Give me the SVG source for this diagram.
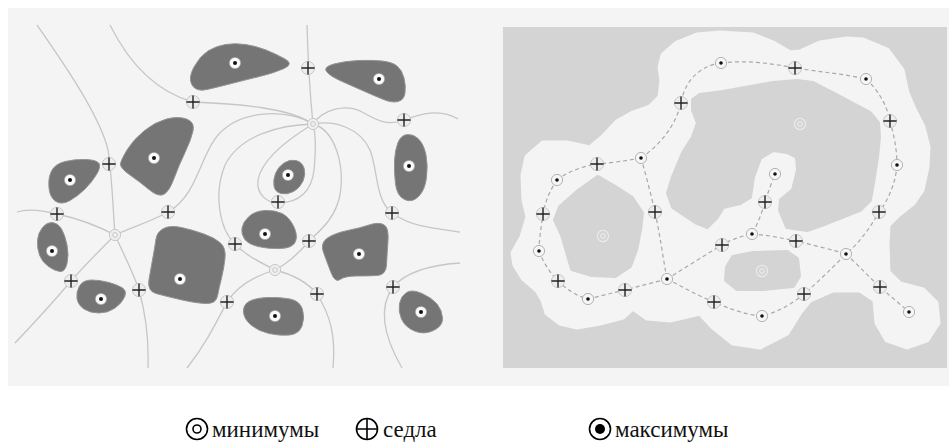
<svg xmlns="http://www.w3.org/2000/svg" width="949" height="448" viewBox="0 0 949 448">
<style>
.curve{fill:none;stroke:#c6c6c6;stroke-width:1.3}
.blob{fill:#757575;stroke:#939393;stroke-width:1}
.dash{fill:none;stroke:#a9a9a9;stroke-width:1.2;stroke-dasharray:4 3}
.hole{fill:#d4d4d4;stroke:#d4d4d4;stroke-width:4;stroke-linejoin:round}
.env{fill:#f4f4f4;stroke:#f4f4f4;stroke-width:5;stroke-linejoin:round}
.leg{font-family:"Liberation Serif","Times New Roman",serif;font-size:23px;fill:#111}
</style>
<defs>
<g id="maxL"><circle r="5.6" fill="#fafafa" stroke="#a8a8a8" stroke-width="0.6"/><circle r="2" fill="#111"/></g>
<g id="sad"><circle r="6.6" fill="#ededed" stroke="#bdbdbd" stroke-width="0.8"/><path d="M-6.6,0H6.6M0,-6.6V6.6" stroke="#222" stroke-width="1.4"/></g>
<g id="minL"><circle r="5.6" fill="#efefef" stroke="#c8c8c8" stroke-width="1"/><circle r="2.4" fill="none" stroke="#c8c8c8" stroke-width="1"/></g>
<g id="maxR"><circle r="5.6" fill="#f6f6f6" stroke="#b3b3b3" stroke-width="1"/><circle r="1.8" fill="#111"/></g>
<g id="minR"><circle r="5.6" fill="none" stroke="#eaeaea" stroke-width="1.2"/><circle r="2.3" fill="none" stroke="#f2f2f2" stroke-width="1"/></g>
</defs>
<rect width="949" height="448" fill="#ffffff"/>
<rect x="8" y="8" width="941" height="378" fill="#f4f4f4"/>

<g id="left-curves">
<path class="curve" d="M 37,25 C 60,58 100,115 108,150 C 112,175 113,210 115,235"/>
<path class="curve" d="M 110,25 C 125,55 150,90 193,102 C 240,104 290,108 313,124"/>
<path class="curve" d="M 307,25 C 308,60 310,95 313,124"/>
<path class="curve" d="M 313,124 C 285,108 240,110 218,135 C 200,155 198,195 168,212 C 150,222 130,228 115,235"/>
<path class="curve" d="M 313,124 C 280,125 240,135 225,165 C 213,195 220,230 235,244 C 245,255 260,262 275,270"/>
<path class="curve" d="M 313,124 C 290,138 262,158 258,180 C 256,195 268,203 278,203"/>
<path class="curve" d="M 278,203 C 300,203 312,190 314,170 C 316,150 316,135 313,124"/>
<path class="curve" d="M 313,124 C 335,130 345,165 340,195 C 335,220 318,232 309,241 C 300,252 290,262 275,270"/>
<path class="curve" d="M 313,124 C 322,110 345,103 362,112 C 378,121 388,126 404,120 C 420,114 440,108 458,119"/>
<path class="curve" d="M 313,124 C 335,120 360,128 370,150 C 378,170 375,200 392,213 C 410,226 430,228 460,232"/>
<path class="curve" d="M 17,212 C 30,208 45,211 57,214 C 80,219 100,227 115,235"/>
<path class="curve" d="M 115,235 C 100,250 85,265 71,281 C 55,300 35,322 15,343"/>
<path class="curve" d="M 115,235 C 124,255 133,272 139,290 C 146,315 149,340 148,368"/>
<path class="curve" d="M 275,270 C 258,275 238,285 227,302 C 215,325 205,345 187,368"/>
<path class="curve" d="M 275,270 C 295,275 308,283 317,294 C 330,315 336,335 333,368"/>
<path class="curve" d="M 460,263 C 430,265 405,273 393,287 C 380,305 380,330 402,368"/>
</g>

<g id="left-blobs">
<path class="blob" d="M 208,51 Q 216,46 225.5,44.5 Q 235,43 245.5,44.5 Q 256,46 266,50 Q 276,54 285,59 Q 294,64 284,68.5 Q 274,73 259.5,76.5 Q 245,80 231.5,83.5 Q 218,87 207,89.5 Q 196,92 192,85 Q 188,78 194,67 Q 200,56 208,51 Z"/>
<path class="blob" d="M 334,64 Q 345,61 358.5,60.5 Q 372,60 382,61 Q 392,62 397,66 Q 402,70 404,78 Q 406,86 405,93 Q 404,100 398,101.5 Q 392,103 383.5,99.5 Q 375,96 362.5,90.5 Q 350,85 340,80.5 Q 330,76 326.5,71.5 Q 323,67 334,64 Z"/>
<path class="blob" d="M 127,150 Q 133,140 144,131 Q 155,122 166.5,119 Q 178,116 186.5,119 Q 195,122 193,131 Q 191,140 185,152.5 Q 179,165 174,178.5 Q 169,192 163.5,194.5 Q 158,197 149,189.5 Q 140,182 130,175 Q 120,168 120.5,164 Q 121,160 127,150 Z"/>
<path class="blob" d="M 51.5,171 Q 55,164 65,161.5 Q 75,159 86,159.5 Q 97,160 99,163.5 Q 101,167 96.5,174.5 Q 92,182 85,189 Q 78,196 70,200.5 Q 62,205 56,201.5 Q 50,198 49,188 Q 48,178 51.5,171 Z"/>
<path class="blob" d="M 398,142.5 Q 401,135 407.5,134.5 Q 414,134 419,139.5 Q 424,145 426,155 Q 428,165 426.5,177.5 Q 425,190 418.5,196.5 Q 412,203 404.5,199.5 Q 397,196 395.5,184 Q 394,172 394.5,161 Q 395,150 398,142.5 Z"/>
<path class="blob" d="M 284,163 Q 290,159 296,160.5 Q 302,162 304,168 Q 306,174 303,181 Q 300,188 293.5,191.5 Q 287,195 281,193.5 Q 275,192 274,186 Q 273,180 275.5,173.5 Q 278,167 284,163 Z"/>
<path class="blob" d="M 42.5,227.5 Q 47,222 52.5,222.5 Q 58,223 61.5,229 Q 65,235 67,245 Q 69,255 67,263.5 Q 65,272 60,271.5 Q 55,271 48.5,266.5 Q 42,262 39.5,255 Q 37,248 37.5,240.5 Q 38,233 42.5,227.5 Z"/>
<path class="blob" d="M 163.5,228.5 Q 170,225 181.5,227.5 Q 193,230 204,234 Q 215,238 220.5,243 Q 226,248 225,258 Q 224,268 221.5,278 Q 219,288 217.5,296 Q 216,304 205.5,303.5 Q 195,303 180,299.5 Q 165,296 156,293.5 Q 147,291 149,279.5 Q 151,268 153,257 Q 155,246 156,239 Q 157,232 163.5,228.5 Z"/>
<path class="blob" d="M 79.5,286 Q 83,280 91.5,280 Q 100,280 109,282.5 Q 118,285 122.5,288 Q 127,291 124.5,297 Q 122,303 115,308 Q 108,313 99,313 Q 90,313 84,309 Q 78,305 77,298.5 Q 76,292 79.5,286 Z"/>
<path class="blob" d="M 249,216.5 Q 255,211 265,210.5 Q 275,210 282,213.5 Q 289,217 293.5,226 Q 298,235 295.5,241.5 Q 293,248 280.5,248.5 Q 268,249 258,246.5 Q 248,244 244.5,239 Q 241,234 242,228 Q 243,222 249,216.5 Z"/>
<path class="blob" d="M 327.5,238 Q 335,233 347.5,230.5 Q 360,228 369,225 Q 378,222 383.5,224.5 Q 389,227 388,241 Q 387,255 386.5,265 Q 386,275 377,275.5 Q 368,276 356.5,276 Q 345,276 340,279.5 Q 335,283 331,272.5 Q 327,262 323.5,252.5 Q 320,243 327.5,238 Z"/>
<path class="blob" d="M 249,301.5 Q 255,298 267.5,297.5 Q 280,297 290,299 Q 300,301 302.5,309.5 Q 305,318 302,326 Q 299,334 289.5,335 Q 280,336 269,333.5 Q 258,331 251,325 Q 244,319 243.5,312 Q 243,305 249,301.5 Z"/>
<path class="blob" d="M 406.5,292.5 Q 412,289 422,293.5 Q 432,298 437,304 Q 442,310 442.5,318 Q 443,326 433.5,330.5 Q 424,335 414.5,331 Q 405,327 401.5,319 Q 398,311 399.5,303.5 Q 401,296 406.5,292.5 Z"/>
</g>

<g id="left-maxima">
<use href="#maxL" x="235" y="63"/><use href="#maxL" x="379" y="79"/><use href="#maxL" x="154" y="158"/>
<use href="#maxL" x="70" y="180"/><use href="#maxL" x="288" y="175"/><use href="#maxL" x="409" y="166"/>
<use href="#maxL" x="52" y="251"/><use href="#maxL" x="101" y="299"/><use href="#maxL" x="180" y="279"/>
<use href="#maxL" x="265" y="234"/><use href="#maxL" x="359" y="254"/><use href="#maxL" x="275" y="316"/>
<use href="#maxL" x="421" y="312"/>
</g>
<g id="left-minima">
<use href="#minL" x="313" y="124"/><use href="#minL" x="115" y="235"/><use href="#minL" x="275" y="270"/>
</g>
<g id="left-saddles">
<use href="#sad" x="193" y="102"/><use href="#sad" x="109" y="164"/><use href="#sad" x="308" y="68"/>
<use href="#sad" x="404" y="120"/><use href="#sad" x="57" y="214"/><use href="#sad" x="168" y="212"/>
<use href="#sad" x="235" y="244"/><use href="#sad" x="71" y="281"/><use href="#sad" x="139" y="290"/>
<use href="#sad" x="227" y="302"/><use href="#sad" x="278" y="202"/><use href="#sad" x="309" y="241"/>
<use href="#sad" x="392" y="213"/><use href="#sad" x="317" y="294"/><use href="#sad" x="393" y="287"/>
</g>

<g id="right-field">
<rect x="503" y="27" width="444" height="341" fill="#d4d4d4"/>
<polygon class="env" points="527,157 543,143 567,143 590,148 603,137 617,122 633,113 650,107 660,97 662,80 660,67 663,55 677,43 697,35 720,33 753,35 773,43 790,53 800,52 820,43 847,39 863,40 887,50 902,70 907,93 913,107 923,127 928,147 927,167 922,190 913,203 898,215 888,225 887,243 888,272 900,284 923,290 936,303 938,323 927,340 907,347 887,340 877,323 875,300 860,290 833,290 810,300 800,312 787,333 760,347 733,343 713,327 700,313 670,320 647,318 633,308 623,317 600,323 577,327 560,323 547,313 543,300 537,290 523,278 515,265 513,253 522,237 528,217 524,200 523,175"/>
<polygon class="hole" points="700,95 723,92 773,83 797,81 813,83 840,97 870,113 878,123 879,137 877,157 873,183 870,200 860,210 827,223 807,230 787,227 780,210 781,200 793,190 798,170 797,157 787,152 773,150 760,158 753,177 750,197 740,203 723,207 717,217 707,227 697,223 673,207 668,193 673,177 683,153 693,137 698,123 693,110 693,100"/>
<polygon class="hole" points="598,177 615,187 632,198 642,213 640,230 636,250 630,266 615,276 592,275 572,269 567,252 562,235 555,220 560,207 577,192"/>
<polygon class="hole" points="727,267 733,257 753,253 787,252 797,259 799,276 793,286 763,289 737,289 726,280"/>
</g>

<g id="right-connectors">
<path class="dash" d="M 721,63 C 745,60 770,63 795,68 C 820,72 845,74 866,79"/>
<path class="dash" d="M 866,79 C 878,90 887,105 890,121 C 894,135 897,150 897,165"/>
<path class="dash" d="M 897,165 C 896,180 890,198 879,212 C 870,228 860,242 846,254"/>
<path class="dash" d="M 846,254 C 858,265 870,278 880,287 C 890,296 900,304 909,312"/>
<path class="dash" d="M 721,63 C 700,66 685,80 681,103 C 676,125 660,145 641,158"/>
<path class="dash" d="M 641,158 C 625,161 610,163 597,164 C 583,166 567,172 557,180"/>
<path class="dash" d="M 557,180 C 550,190 545,202 543,214 C 541,228 539,240 539,251"/>
<path class="dash" d="M 539,251 C 543,262 550,273 558,281 C 567,290 577,296 588,299"/>
<path class="dash" d="M 588,299 C 600,296 612,293 625,290 C 640,286 655,282 667,279"/>
<path class="dash" d="M 641,158 C 646,175 651,195 655,212 C 660,235 663,258 667,279"/>
<path class="dash" d="M 667,279 C 685,268 705,255 722,245 C 732,239 742,236 752,234 C 758,224 762,212 765,202 C 768,192 772,182 775,174"/>
<path class="dash" d="M 752,234 C 767,235 782,238 796,241 C 812,245 830,249 846,254"/>
<path class="dash" d="M 667,279 C 683,287 698,296 714,302 C 730,309 746,315 762,316 C 778,312 792,304 804,294 C 818,282 832,268 846,254"/>
</g>

<g id="right-maxima">
<use href="#maxR" x="721" y="63"/><use href="#maxR" x="641" y="158"/><use href="#maxR" x="557" y="180"/>
<use href="#maxR" x="866" y="79"/><use href="#maxR" x="897" y="165"/><use href="#maxR" x="775" y="174"/>
<use href="#maxR" x="539" y="251"/><use href="#maxR" x="588" y="299"/><use href="#maxR" x="667" y="279"/>
<use href="#maxR" x="752" y="234"/><use href="#maxR" x="846" y="254"/><use href="#maxR" x="762" y="316"/>
<use href="#maxR" x="909" y="312"/>
</g>
<g id="right-minima">
<use href="#minR" x="800" y="124"/><use href="#minR" x="603" y="236"/><use href="#minR" x="762" y="271"/>
</g>
<g id="right-saddles">
<use href="#sad" x="681" y="103"/><use href="#sad" x="597" y="164"/><use href="#sad" x="795" y="68"/>
<use href="#sad" x="890" y="121"/><use href="#sad" x="543" y="214"/><use href="#sad" x="655" y="212"/>
<use href="#sad" x="558" y="281"/><use href="#sad" x="625" y="290"/><use href="#sad" x="722" y="245"/>
<use href="#sad" x="714" y="302"/><use href="#sad" x="765" y="202"/><use href="#sad" x="796" y="241"/>
<use href="#sad" x="879" y="212"/><use href="#sad" x="804" y="294"/><use href="#sad" x="880" y="287"/>
</g>

<g id="legend">
<g id="legend-min">
<circle cx="197" cy="429" r="10.5" fill="none" stroke="#000" stroke-width="1.6"/>
<circle cx="197" cy="429" r="4" fill="none" stroke="#000" stroke-width="1.6"/>
<text class="leg" x="212" y="437">минимумы</text>
</g>
<g id="legend-saddle">
<circle cx="367" cy="429" r="10.5" fill="none" stroke="#000" stroke-width="1.6"/>
<path d="M356.5,429H377.5M367,418.5V439.5" stroke="#000" stroke-width="1.6"/>
<text class="leg" x="383" y="437">седла</text>
</g>
<g id="legend-max">
<circle cx="600" cy="429" r="10.5" fill="none" stroke="#000" stroke-width="1.6"/>
<circle cx="600" cy="429" r="5" fill="#000"/>
<text class="leg" x="615" y="437">максимумы</text>
</g>
</g>
</svg>
